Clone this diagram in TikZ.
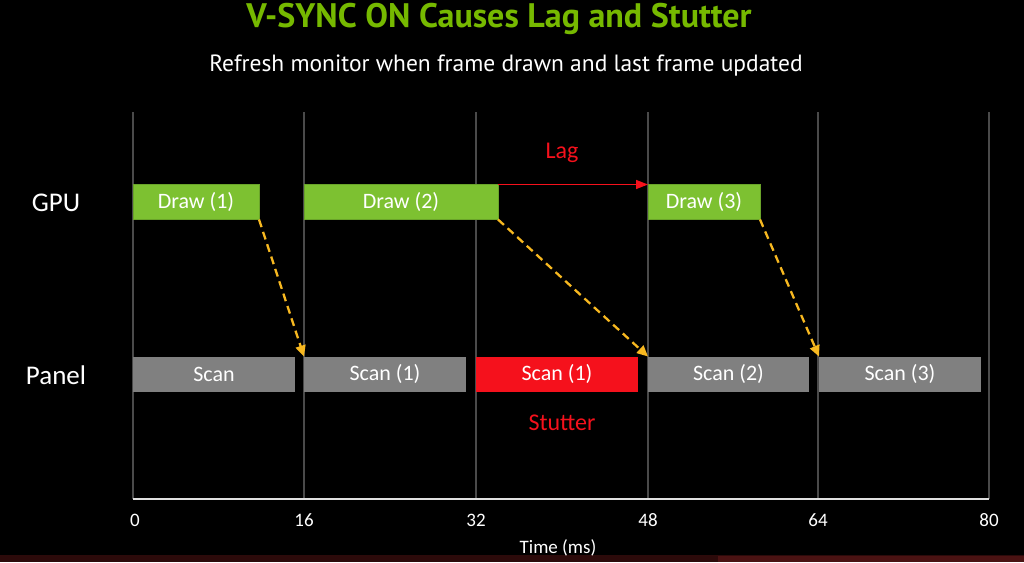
\documentclass[tikz,border=0pt]{standalone}
\usepackage{fontspec}
\setmainfont{Carlito}
\newfontfamily\titlefont{PT Sans}
\usetikzlibrary{arrows.meta}
\definecolor{nvgreen}{HTML}{76B900}
\definecolor{barg}{HTML}{7DC131}
\definecolor{bargray}{HTML}{808080}
\definecolor{sred}{HTML}{F5111C}
\definecolor{ayellow}{HTML}{F7B820}
\definecolor{gridc}{HTML}{4A4A4A}
\definecolor{stripa}{HTML}{2C0A0A}
\definecolor{stripb}{HTML}{4A1212}
\tikzset{
  bar/.style={rectangle, inner sep=0pt, outer sep=0pt, minimum height=35pt, text=white, font=\fontsize{22}{25}\selectfont},
  drawbar/.style={bar, fill=barg, draw=barg!85!black, line width=0.6pt},
  scanbar/.style={bar, fill=bargray},
  redbar/.style={bar, fill=sred},
  rowlabel/.style={text=white, font=\fontsize{27}{30}\selectfont},
  redlabel/.style={text=sred, font=\fontsize{24}{28}\selectfont},
  ticklabel/.style={text=white, font=\fontsize{19}{22}\selectfont},
  gridline/.style={draw=gridc, line width=1.3pt},
  dasharrow/.style={draw=ayellow, line width=2.3pt, dash pattern=on 8pt off 5pt, -{Triangle[length=11pt,width=10pt]}},
  lagarrow/.style={draw=sred, line width=1.4pt, -{Triangle[length=12pt,width=9pt]}},
}
\begin{document}
\begin{tikzpicture}[x=1pt,y=-1pt]
\fill[black] (0,0) rectangle (1024,562);
\useasboundingbox (0,0) rectangle (1024,562);
% bottom strip
\fill[stripa] (0,555) rectangle (1024,562);
\fill[stripb] (718,556) rectangle (1024,562);
% grid
\foreach \x in {133,304,476,648,818,989} {
  \draw[gridline] (\x,112) -- (\x,499);
}
\draw[draw=white!88!black, line width=2pt] (133,499) -- (989,499);
% title
\node[text=nvgreen, font=\titlefont\bfseries\fontsize{34}{38}\selectfont] (title) at (499,19) {V-SYNC ON Causes Lag and Stutter};
\node[text=white, font=\titlefont\fontsize{23.5}{27}\selectfont] (sub) at (506,66) {Refresh monitor when frame drawn and last frame updated};
% row labels
\node[rowlabel] (gpu) at (56,203) {GPU};
\node[rowlabel] (panel) at (56,375) {Panel};
% GPU bars
\node[drawbar, minimum width=126pt] (d1) at (196,202) {Draw (1)};
\node[drawbar, minimum width=194pt] (d2) at (401,202) {Draw (2)};
\node[drawbar, minimum width=112pt] (d3) at (704,202) {Draw (3)};
% panel bars
\node[scanbar, minimum width=162pt] (s1) at (214,374) {Scan};
\node[scanbar, minimum width=162pt] (s2) at (385,374) {Scan (1)};
\node[redbar, minimum width=162pt] (s3) at (557,374) {Scan (1)};
\node[scanbar, minimum width=161pt] (s4) at (728.5,374) {Scan (2)};
\node[scanbar, minimum width=162pt] (s5) at (900,374) {Scan (3)};
% labels
\node[redlabel] (lag) at (562,153) {Lag};
\node[redlabel] (stutter) at (562,423) {Stutter};
% arrows
\draw[lagarrow] (d2.north east) -- (d3.north west);
\draw[dasharrow] (d1.south east) -- (s2.north west);
\draw[dasharrow] (d2.south east) -- (s4.north west);
\draw[dasharrow] (d3.south east) -- (s5.north west);
% ticks
\foreach \x/\t in {135/0,304/16,476/32,648/48,818/64,989/80} {
  \node[ticklabel] at (\x,520) {\t};
}
\node[ticklabel] (time) at (558,548) {Time (ms)};
\end{tikzpicture}
\end{document}
